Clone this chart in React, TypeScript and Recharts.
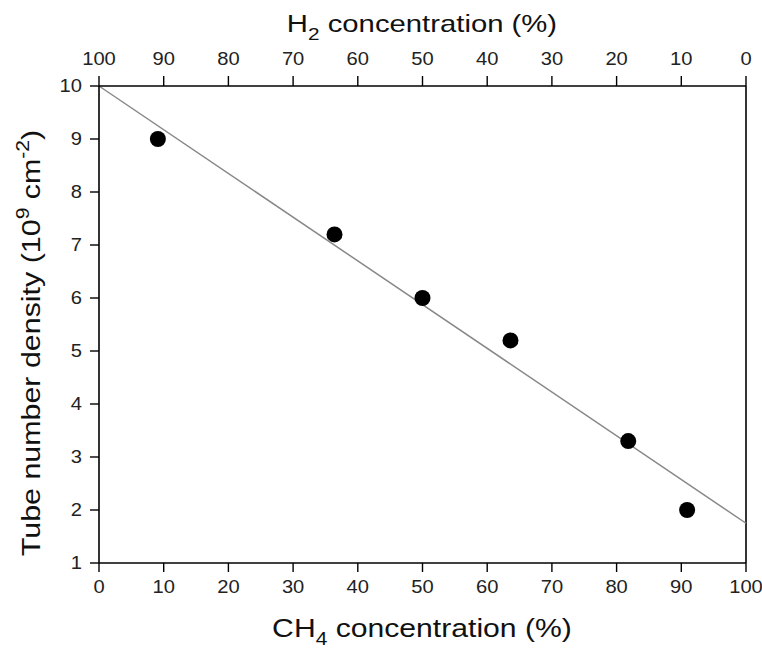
import { ComposedChart, Scatter, Line, XAxis, YAxis, ReferenceLine } from 'recharts';

// CH4 concentration (%) vs tube number density (10^9 cm^-2)
const ch4 = [9.1, 36.4, 50, 63.6, 81.8, 90.9];
const density = [9.0, 7.2, 6.0, 5.2, 3.3, 2.0];
const fitX = [0, 100];
const fitY = [10, 1.75];
const xTicks = [0, 10, 20, 30, 40, 50, 60, 70, 80, 90, 100];
const yTicks = [1, 2, 3, 4, 5, 6, 7, 8, 9, 10];

const points = ch4.map((x, i) => ({ x, y: density[i] }));
const fit = fitX.map((x, i) => ({ x, y: fitY[i] }));

const FONT = '"Liberation Sans", Arial, sans-serif';
const axisLine = { stroke: '#000', strokeWidth: 1.6 };
const tickLine = { stroke: '#000', strokeWidth: 1.4 };

const Dot = (props: any) => <circle cx={props.cx} cy={props.cy} r={8} fill="#000" />;

const tickText = (x: number, y: number, dy: number, anchor: string, value: any) => (
  <text
    transform={`translate(${x}, ${y + dy}) scale(1.12, 1)`}
    textAnchor={anchor}
    fontSize={18}
    fontFamily={FONT}
    fill="#222"
  >
    {value}
  </text>
);

const BottomTick = (props: any) => tickText(props.x, props.y, 14, 'middle', props.payload.value);
const TopTick = (props: any) => tickText(props.x, props.y, -1, 'middle', props.payload.value);
const LeftTick = (props: any) => tickText(props.x, props.y, 6, 'end', props.payload.value);

const BottomTitle = () => (
  <text transform="translate(422, 637) scale(1.16, 1)" textAnchor="middle" fontSize={26} fontFamily={FONT} fill="#111">
    CH<tspan fontSize={18} dy={8}>4</tspan>
    <tspan dy={-8}> concentration (%)</tspan>
  </text>
);

const TopTitle = () => (
  <text transform="translate(422, 32) scale(1.22, 1)" textAnchor="middle" fontSize={24} fontFamily={FONT} fill="#111">
    H<tspan fontSize={17} dy={8}>2</tspan>
    <tspan dy={-8}> concentration (%)</tspan>
  </text>
);

const LeftTitle = () => (
  <text
    transform="translate(40, 343) rotate(-90) scale(1.17, 1)"
    textAnchor="middle"
    fontSize={26}
    fontFamily={FONT}
    fill="#111"
  >
    Tube number density (10<tspan fontSize={18} dy={-11}>9</tspan>
    <tspan dy={11}> cm</tspan>
    <tspan fontSize={18} dy={-11}>-2</tspan>
    <tspan dy={11}>)</tspan>
  </text>
);

export default function App() {
  return (
    <div style={{ position: 'absolute', left: 0, top: 0, background: '#fff' }}>
      <ComposedChart width={762} height={648} margin={{ top: 46, right: 16, bottom: 45, left: 49 }}>
        <XAxis
          xAxisId="bottom"
          dataKey="x"
          type="number"
          domain={[0, 100]}
          ticks={xTicks}
          interval={0}
          height={40}
          tickSize={9}
          tickMargin={7}
          tick={BottomTick}
          axisLine={axisLine}
          tickLine={tickLine}
          label={{ content: () => <BottomTitle /> }}
        />
        <XAxis
          xAxisId="top"
          orientation="top"
          type="number"
          dataKey="x"
          domain={[0, 100]}
          reversed
          ticks={xTicks}
          interval={0}
          height={40}
          tickSize={10}
          tickMargin={10}
          tick={TopTick}
          axisLine={axisLine}
          tickLine={tickLine}
          label={{ content: () => <TopTitle /> }}
        />
        <YAxis
          yAxisId="left"
          type="number"
          domain={[1, 10]}
          ticks={yTicks}
          interval={0}
          width={50}
          tickSize={9}
          tickMargin={8}
          tick={LeftTick}
          axisLine={axisLine}
          tickLine={tickLine}
          label={{ content: () => <LeftTitle /> }}
        />
        <ReferenceLine xAxisId="bottom" yAxisId="left" x={100} stroke="#000" strokeWidth={1.6} />
        {/* invisible series so the top (H2) axis is drawn */}
        <Line
          xAxisId="top"
          yAxisId="left"
          data={fit}
          dataKey="y"
          stroke="none"
          dot={false}
          activeDot={false}
          isAnimationActive={false}
        />
        <Line
          xAxisId="bottom"
          yAxisId="left"
          data={fit}
          dataKey="y"
          type="linear"
          stroke="#888"
          strokeWidth={1.5}
          dot={false}
          activeDot={false}
          isAnimationActive={false}
        />
        <Scatter
          xAxisId="bottom"
          yAxisId="left"
          data={points}
          dataKey="y"
          shape={Dot}
          isAnimationActive={false}
        />
      </ComposedChart>
    </div>
  );
}
